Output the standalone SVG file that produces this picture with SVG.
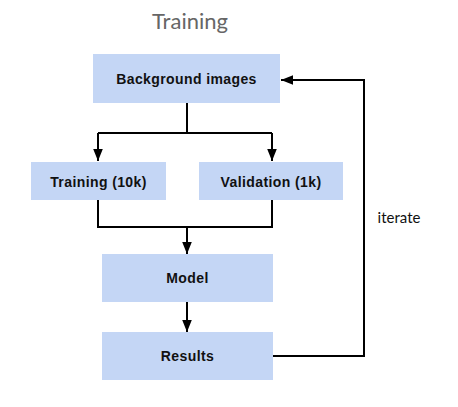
<svg xmlns="http://www.w3.org/2000/svg" width="458" height="407" viewBox="0 0 458 407">
<style>
.box{fill:#c4d6f5;}
.lbl{font-family:"Liberation Sans",Arial,sans-serif;font-weight:bold;font-size:14px;letter-spacing:0.4px;fill:#111;text-anchor:middle;}
.ln{fill:none;stroke:#000;stroke-width:2;}
</style>
<defs>
<marker id="a" viewBox="0 0 10 10" refX="10" refY="5" markerWidth="12" markerHeight="12" orient="auto" markerUnits="userSpaceOnUse">
<path d="M0,1 L10,5 L0,9 z" fill="#000"/>
</marker>
</defs>
<rect width="458" height="407" fill="#fff"/>
<text x="190" y="29" font-family="Lato,'Liberation Sans',sans-serif" font-size="22" fill="#666" text-anchor="middle">Training</text>
<g id="connectors">
<path class="ln" d="M187,103 V133 M98,133 H272"/>
<path class="ln" d="M98,133 V161" marker-end="url(#a)"/>
<path class="ln" d="M272,133 V161" marker-end="url(#a)"/>
<path class="ln" d="M98,200 V227 H272 V200 M187,227 V254" marker-end="url(#a)"/>
<path class="ln" d="M187,302 V332" marker-end="url(#a)"/>
<path class="ln" d="M273,356 H364 V80 H281" marker-end="url(#a)"/>
<text x="399" y="223" font-family="Lato,'Liberation Sans',sans-serif" font-size="15" fill="#111" text-anchor="middle">iterate</text>
</g>
<g id="bg"><rect class="box" x="93" y="54" width="187" height="49"/><text class="lbl" x="186.5" y="84">Background images</text></g>
<g id="train"><rect class="box" x="31" y="162" width="135" height="38"/><text class="lbl" x="98.5" y="186.5">Training (10k)</text></g>
<g id="val"><rect class="box" x="199" y="162" width="144" height="38"/><text class="lbl" x="271" y="186.5">Validation (1k)</text></g>
<g id="model"><rect class="box" x="102" y="254" width="171" height="48"/><text class="lbl" x="187.5" y="283">Model</text></g>
<g id="results"><rect class="box" x="102" y="332" width="171" height="48"/><text class="lbl" x="187.5" y="361">Results</text></g>
</svg>
